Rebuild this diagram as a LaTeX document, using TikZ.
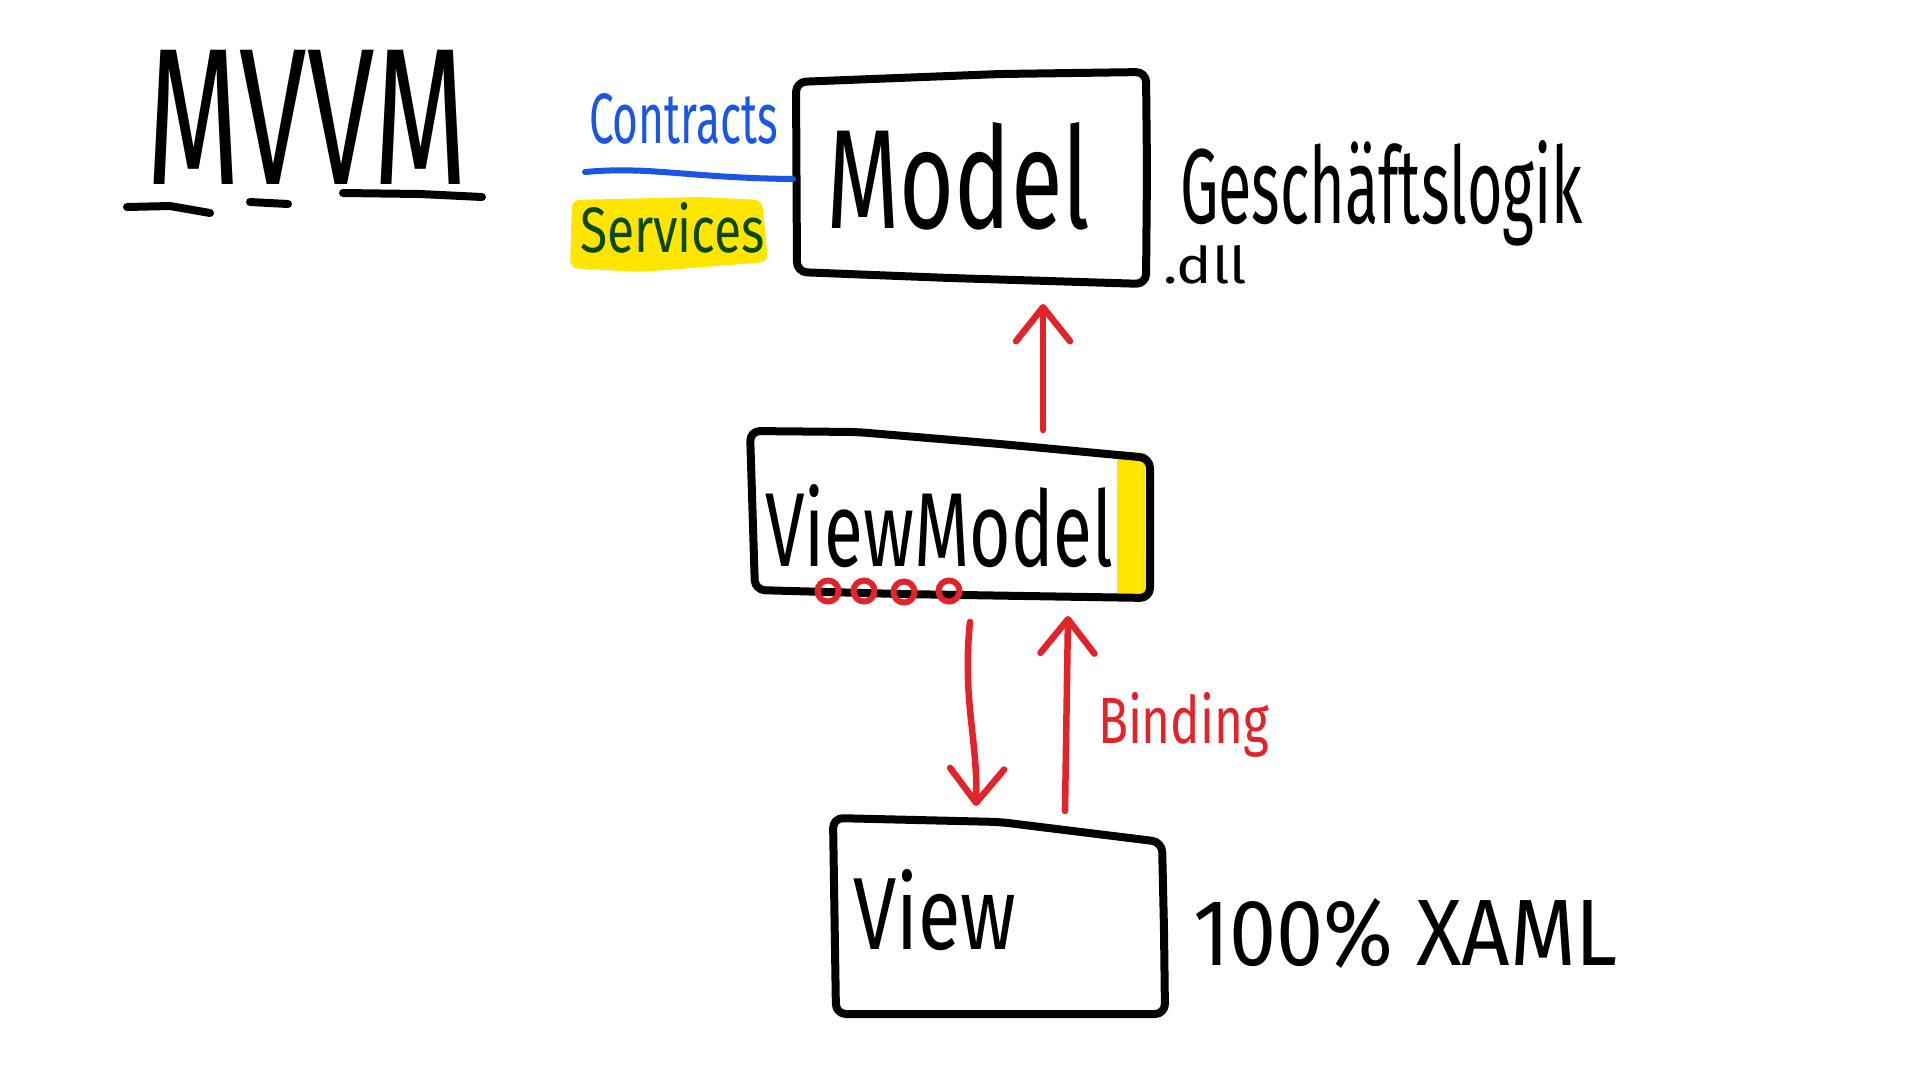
\documentclass[tikz,border=0pt]{standalone}
\usepackage{fontspec}
\usepackage{graphicx}
\setmainfont{Fira Sans}
\usetikzlibrary{arrows.meta}
\definecolor{inkblue}{HTML}{1A56E6}
\definecolor{inkgreen}{HTML}{0A4A10}
\definecolor{inkred}{HTML}{E3232A}
\definecolor{hiyellow}{HTML}{FFE500}
\newcommand{\txtfit}[3]{\resizebox{#1pt}{#2pt}{#3}}
\begin{document}
\begin{tikzpicture}[x=1pt,y=-1pt,
  ink/.style={line width=8pt,line cap=round,line join=round},
  frame/.style={ink,draw=black,rounded corners=10pt},
  lbl/.style={inner sep=0pt,outer sep=0pt,anchor=base west},
  redarrow/.style={draw=inkred,line width=6.5pt,line cap=round,line join=round,
    -{Straight Barb[length=34pt,width=54pt,line cap=round,line join=round]}},
  redcirc/.style={draw=inkred,line width=6pt},
]
\useasboundingbox[fill=white] (0,0) rectangle (1920,1080);

% title
\node[lbl] (title) at (146,184) {\txtfit{322}{134}{MVVM}};
\draw[ink] (127,207) -- (170,206) -- (210,213);
\draw[ink] (250,202) -- (288,204);
\draw[ink] (343,193) -- (420,194) -- (482,197);

% contracts / services
\fill[hiyellow,rounded corners=8pt] (572,200) -- (700,197) -- (762,200) -- (768,262) -- (640,272) -- (570,268) -- cycle;
\node[lbl,text=inkblue] (contracts) at (589,143) {\txtfit{189}{50}{Contracts}};
\node[lbl,text=inkgreen] (services) at (580,252) {\txtfit{185}{50}{Services}};
\coordinate (bluestart) at (585,172);
\coordinate (blueend) at (793,179);

% Model box
\draw[frame] (796,82) -- (1000,74) -- (1146,72) -- (1147,170) -- (1146,284) -- (950,278) -- (797,272) -- cycle;
\draw[inkblue,line width=6pt,line cap=round] (bluestart) .. controls (650,166) and (690,178) .. (blueend);
\node[lbl] (model) at (826,228) {\txtfit{264}{106}{Model}};
\node[lbl] (gl) at (1180,223) {\txtfit{403}{83}{Geschäftslogik}};
\node[lbl] (dll) at (1163,283) {\txtfit{84}{38}{.dll}};

% ViewModel box
\fill[hiyellow] (1117,451) -- (1145,453) -- (1146,594) -- (1117,594) -- cycle;
\draw[frame] (750,431) -- (857,432) -- (1000,444) -- (1150,458) -- (1150,598) -- (900,594) -- (755,590) -- cycle;
\node[lbl] (vm) at (765,566) {\txtfit{348}{82}{ViewModel}};
\draw[redcirc] (828,591) circle (10.5);
\draw[redcirc] (864,591) circle (10.5);
\draw[redcirc] (904,592) circle (10.5);
\draw[redcirc] (949,591) circle (10.5);

% View box
\draw[frame] (833,818) -- (1000,822) -- (1162,842) -- (1164,930) -- (1165,1014) -- (836,1014) -- cycle;
\node[lbl] (view) at (853,949) {\txtfit{163}{80}{View}};
\node[lbl] (xaml) at (1193,965) {\txtfit{425}{67}{100\% XAML}};

% arrows
\coordinate (vmtop) at (1043,430);
\coordinate (modelbot) at (1043,304);
\draw[redarrow] (vmtop) -- (modelbot);
\coordinate (vmbotA) at (970,622);
\coordinate (viewtopA) at (976,806);
\draw[redarrow] (vmbotA) .. controls (962,700) and (978,740) .. (viewtopA);
\coordinate (viewtopB) at (1065,811);
\coordinate (vmbotB) at (1068,616);
\draw[redarrow] (viewtopB) -- (vmbotB);
\node[lbl,text=inkred] (binding) at (1098,743) {\txtfit{171}{51}{Binding}};
\end{tikzpicture}
\end{document}
